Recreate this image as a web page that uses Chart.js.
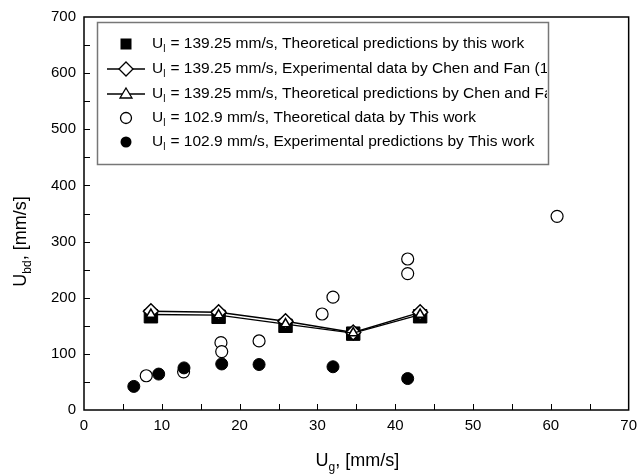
<!DOCTYPE html>
<html>
<head>
<meta charset="utf-8">
<script src="https://cdn.jsdelivr.net/npm/chart.js@4.4.0/dist/chart.umd.min.js"></script>
<style>
  html, body { margin: 0; padding: 0; background: #fff; }
  #wrap { width: 644px; height: 475px; }
</style>
</head>
<body>
<div id="wrap"><canvas id="chart" width="644" height="475"></canvas></div>
<script>
// U_l = 139.25 mm/s series (shared Ug values)
const ugHigh = [8.6, 17.3, 25.9, 34.6, 43.2];
const theoThisWork = [167, 166, 150, 136, 167];
const expChenFan = [176, 174, 158, 138, 174];
const theoChenFan = [170, 169, 153, 137, 170];

// U_l = 102.9 mm/s series
const ugOpen = [8.0, 12.8, 17.6, 17.7, 22.5, 30.6, 32.0, 41.6, 41.6, 60.8];
const ubdOpen = [61, 68, 120, 104, 123, 171, 201, 269, 243, 345];
const ugFilled = [6.4, 9.6, 12.85, 17.7, 22.5, 32.0, 41.6];
const ubdFilled = [42, 64, 75, 82, 81, 77, 56];

const xTicks = [0, 10, 20, 30, 40, 50, 60, 70];
const yTicks = [0, 100, 200, 300, 400, 500, 600, 700];

const legendLabels = [
    '= 139.25 mm/s, Theoretical predictions by this work',
    '= 139.25 mm/s, Experimental data by Chen and Fan (1990)',
    '= 139.25 mm/s, Theoretical predictions by Chen and Fan (1990)',
    '= 102.9 mm/s, Theoretical data by This work',
    '= 102.9 mm/s, Experimental predictions by This work'
];

const FONT = '"Liberation Sans", Arial, sans-serif';
const pts = (xs, ys) => xs.map((x, i) => ({ x, y: ys[i] }));

// draws the box frame and inward tick marks
const framePlugin = {
    id: 'frame',
    afterDraw(chart) {
        const { ctx, chartArea: a, scales } = chart;
        ctx.save();
        ctx.strokeStyle = '#000';
        ctx.lineWidth = 1.5;
        ctx.strokeRect(a.left, a.top, a.right - a.left, a.bottom - a.top);
        ctx.lineWidth = 1;
        ctx.beginPath();
        for (let v = 5; v < 70; v += 5) {
            const px = Math.round(scales.x.getPixelForValue(v)) + 0.5;
            ctx.moveTo(px, a.bottom);
            ctx.lineTo(px, a.bottom - 6);
        }
        for (let v = 50; v < 700; v += 50) {
            const py = Math.round(scales.y.getPixelForValue(v)) + 0.5;
            ctx.moveTo(a.left, py);
            ctx.lineTo(a.left + 6, py);
        }
        ctx.stroke();
        ctx.restore();
    }
};

// axis titles with subscripts
const titlesPlugin = {
    id: 'titles',
    afterDraw(chart) {
        const { ctx, chartArea: a } = chart;
        const drawSub = (main, sub, rest, cx, cy) => {
            ctx.font = '18px ' + FONT;
            const w1 = ctx.measureText(main).width;
            const w3 = ctx.measureText(rest).width;
            ctx.font = '12px ' + FONT;
            const w2 = ctx.measureText(sub).width;
            let x = cx - (w1 + w2 + w3) / 2;
            ctx.textBaseline = 'alphabetic';
            ctx.textAlign = 'left';
            ctx.font = '18px ' + FONT;
            ctx.fillText(main, x, cy);
            x += w1;
            ctx.font = '12px ' + FONT;
            ctx.fillText(sub, x, cy + 5);
            x += w2;
            ctx.font = '18px ' + FONT;
            ctx.fillText(rest, x, cy);
        };
        ctx.save();
        ctx.fillStyle = '#000';
        drawSub('U', 'g', ', [mm/s]', (a.left + a.right) / 2 + 1, 466);
        ctx.translate(26, (a.top + a.bottom) / 2 + 28);
        ctx.rotate(-Math.PI / 2);
        drawSub('U', 'bd', ', [mm/s]', 0, 0);
        ctx.restore();
    }
};

// legend box drawn inside the plot; long labels are cut at the box edge
const legendPlugin = {
    id: 'boxLegend',
    afterDraw(chart) {
        const { ctx } = chart;
        ctx.save();
        ctx.fillStyle = '#fff';
        ctx.fillRect(97.5, 22.5, 451, 142);
        ctx.strokeStyle = '#777';
        ctx.lineWidth = 1.5;
        ctx.strokeRect(97.5, 22.5, 451, 142);
        ctx.beginPath();
        ctx.rect(98, 23, 449, 141);
        ctx.clip();
        const mx = 126, tx = 152;
        const rows = [44, 69, 94, 118, 142];
        rows.forEach((y, i) => {
            ctx.strokeStyle = '#000';
            ctx.fillStyle = '#000';
            ctx.lineWidth = 1.3;
            if (i === 1 || i === 2) {
                ctx.beginPath();
                ctx.moveTo(107, y);
                ctx.lineTo(145, y);
                ctx.stroke();
            }
            ctx.beginPath();
            if (i === 0) {
                ctx.fillRect(mx - 5.5, y - 5.5, 11, 11);
            } else if (i === 1) {
                ctx.moveTo(mx, y - 7); ctx.lineTo(mx + 7, y); ctx.lineTo(mx, y + 7); ctx.lineTo(mx - 7, y); ctx.closePath();
                ctx.fillStyle = '#fff'; ctx.fill(); ctx.stroke();
            } else if (i === 2) {
                ctx.moveTo(mx, y - 6); ctx.lineTo(mx + 6, y + 4); ctx.lineTo(mx - 6, y + 4); ctx.closePath();
                ctx.fillStyle = '#fff'; ctx.fill(); ctx.stroke();
            } else if (i === 3) {
                ctx.arc(mx, y, 5.5, 0, Math.PI * 2);
                ctx.fillStyle = '#fff'; ctx.fill(); ctx.stroke();
            } else {
                ctx.arc(mx, y, 5.5, 0, Math.PI * 2);
                ctx.fill();
            }
            ctx.fillStyle = '#000';
            ctx.textBaseline = 'middle';
            ctx.textAlign = 'left';
            ctx.font = '15.5px ' + FONT;
            ctx.fillText('U', tx, y);
            const wU = ctx.measureText('U').width;
            ctx.font = '10px ' + FONT;
            ctx.fillText('l', tx + wU, y + 5);
            ctx.font = '15.5px ' + FONT;
            ctx.fillText(' ' + legendLabels[i], tx + wU + 3, y);
        });
        ctx.restore();
    }
};

new Chart(document.getElementById('chart'), {
    type: 'scatter',
    data: {
        datasets: [
            {
                label: 'Theoretical predictions by Chen and Fan (1990)',
                data: pts(ugHigh, theoChenFan),
                showLine: true,
                borderColor: '#000',
                borderWidth: 1.4,
                pointStyle: 'triangle',
                pointRadius: 5.5,
                pointBackgroundColor: '#fff',
                pointBorderColor: '#000',
                pointBorderWidth: 1.5,
                order: 1
            },
            {
                label: 'Experimental data by Chen and Fan (1990)',
                data: pts(ugHigh, expChenFan),
                showLine: true,
                borderColor: '#000',
                borderWidth: 1.4,
                pointStyle: 'rectRot',
                pointRadius: 7.5,
                pointBackgroundColor: '#fff',
                pointBorderColor: '#000',
                pointBorderWidth: 1.5,
                order: 2
            },
            {
                label: 'Theoretical predictions by this work',
                data: pts(ugHigh, theoThisWork),
                showLine: false,
                pointStyle: 'rect',
                pointRadius: 9.5,
                pointBackgroundColor: '#000',
                pointBorderColor: '#000',
                order: 3
            },
            {
                label: 'Experimental predictions by This work',
                data: pts(ugFilled, ubdFilled),
                pointStyle: 'circle',
                pointRadius: 6,
                pointBackgroundColor: '#000',
                pointBorderColor: '#000',
                order: 4
            },
            {
                label: 'Theoretical data by This work',
                data: pts(ugOpen, ubdOpen),
                pointStyle: 'circle',
                pointRadius: 6,
                pointBackgroundColor: '#fff',
                pointBorderColor: '#000',
                pointBorderWidth: 1.2,
                order: 5
            }
        ]
    },
    options: {
        responsive: false,
        animation: false,
        devicePixelRatio: 1,
        layout: { padding: { top: 15, right: 10, left: 0, bottom: 0 } },
        plugins: { legend: { display: false }, tooltip: { enabled: false } },
        scales: {
            x: {
                type: 'linear',
                min: 0, max: 70,
                afterBuildTicks: s => { s.ticks = xTicks.map(v => ({ value: v })); },
                afterFit: s => { s.height = 65; },
                grid: { display: false, drawTicks: false },
                border: { display: false },
                ticks: { color: '#000', font: { family: FONT, size: 15 }, padding: 7, maxRotation: 0 }
            },
            y: {
                min: 0, max: 700,
                afterBuildTicks: s => { s.ticks = yTicks.map(v => ({ value: v })); },
                afterFit: s => { s.width = 84; },
                grid: { display: false, drawTicks: false },
                border: { display: false },
                ticks: { color: '#000', font: { family: FONT, size: 15 }, padding: 8 }
            }
        }
    },
    plugins: [framePlugin, titlesPlugin, legendPlugin]
});
</script>
</body>
</html>
